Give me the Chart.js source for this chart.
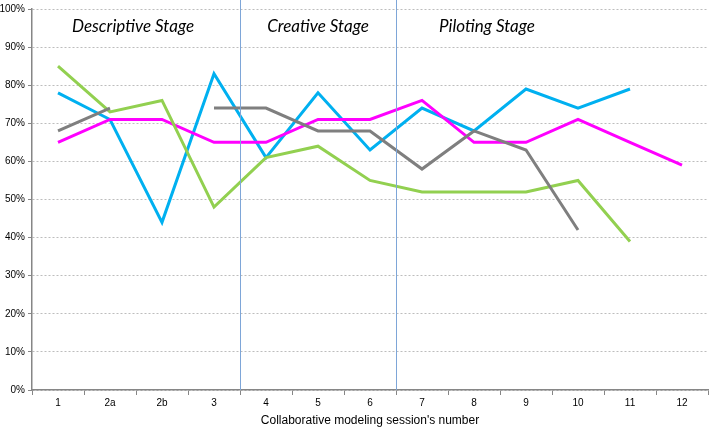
<!DOCTYPE html>
<html>
<head>
<meta charset="utf-8">
<script src="https://cdn.jsdelivr.net/npm/chart.js@4"></script>
<style>
  html, body { margin: 0; padding: 0; background: #fff; }
  #wrap { width: 709px; height: 428px; }
</style>
</head>
<body>
<div id="wrap"><canvas id="grafico" width="709" height="428"></canvas></div>
<script>
// Session labels on the x axis
const sessions = ['1', '2a', '2b', '3', '4', '5', '6', '7', '8', '9', '10', '11', '12'];

// Series values (percent), null where there is no point
const blueSeries    = [78, 71, 44, 83, 61, 78, 63, 74, 68, 79, 74, 79, null];
const magentaSeries = [65, 71, 71, 65, 65, 71, 71, 76, 65, 65, 71, 65, 59];
const greenSeries   = [85, 73, 76, 48, 61, 64, 55, 52, 52, 52, 55, 39, null];
const graySeries    = [68, 74, null, 74, 74, 68, 68, 58, 68, 63, 42, null, null];

// Stages: name and first session of each one
const stageNames = ['Descriptive Stage', 'Creative Stage', 'Piloting Stage'];
const stageFirst = ['1', '4', '7'];

// Tick values for the y axis
const yTicks = [0, 10, 20, 30, 40, 50, 60, 70, 80, 90, 100];

// Builds one line dataset
function makeLine(data, color) {
  return {
    data: data,
    borderColor: color,
    backgroundColor: color,
    borderWidth: 3,
    pointRadius: 0,
    tension: 0,
    spanGaps: false
  };
}

// Plugin drawing the stage separators and the stage names
const stagePlugin = {
  id: 'stages',
  afterDatasetsDraw(chart) {
    const ctx = chart.ctx;
    const x = chart.scales.x;
    const area = chart.chartArea;
    const half = (x.getPixelForValue(1) - x.getPixelForValue(0)) / 2;
    ctx.save();
    // separators between stages
    ctx.strokeStyle = '#7ea6d8';
    ctx.lineWidth = 1;
    for (let i = 1; i < stageFirst.length; i++) {
      const px = Math.round(x.getPixelForValue(sessions.indexOf(stageFirst[i])) - half) + 0.5;
      ctx.beginPath();
      ctx.moveTo(px, 0);
      ctx.lineTo(px, area.bottom);
      ctx.stroke();
    }
    // stage names
    ctx.fillStyle = '#000';
    ctx.font = 'italic 17px Lato';
    ctx.textAlign = 'center';
    ctx.textBaseline = 'middle';
    const centers = [133, 318, 487];
    stageNames.forEach((name, i) => {
      ctx.fillText(name, centers[i], 27);
    });
    ctx.restore();
  }
};

const ctx = document.getElementById('grafico').getContext('2d');

new Chart(ctx, {
  type: 'line',
  data: {
    labels: sessions,
    datasets: [
      makeLine(graySeries, '#7f7f7f'),
      makeLine(greenSeries, '#92d050'),
      makeLine(magentaSeries, '#ff00ff'),
      makeLine(blueSeries, '#00b0f0')
    ]
  },
  options: {
    responsive: false,
    animation: false,
    layout: { padding: { top: 5, right: 1, left: 0, bottom: 0 } },
    plugins: {
      legend: { display: false },
      tooltip: { enabled: false }
    },
    scales: {
      x: {
        offset: true,
        grid: {
          offset: true,
          drawOnChartArea: false,
          tickLength: 5,
          tickColor: '#868686'
        },
        border: { color: '#868686', width: 1.5 },
        ticks: {
          color: '#000',
          font: { family: 'Liberation Sans', size: 10 },
          padding: 2,
          maxRotation: 0
        },
        title: {
          display: true,
          text: "Collaborative modeling session's number",
          color: '#000',
          font: { family: 'Liberation Sans', size: 12 },
          padding: { top: 2, bottom: 0 }
        },
        afterFit(scale) { scale.height = 38; }
      },
      y: {
        min: 0,
        max: 100,
        afterBuildTicks(scale) { scale.ticks = yTicks.map(v => ({ value: v })); },
        grid: {
          color: '#bdbdbd',
          tickBorderDash: [],
          tickColor: '#868686',
          tickLength: 4
        },
        border: { color: '#868686', width: 1.5, dash: [2, 2] },
        ticks: {
          color: '#000',
          font: { family: 'Liberation Sans', size: 10 },
          padding: 3,
          callback: v => v + '%'
        },
        afterFit(scale) { scale.width = 32; }
      }
    }
  },
  plugins: [stagePlugin]
});
</script>
</body>
</html>
